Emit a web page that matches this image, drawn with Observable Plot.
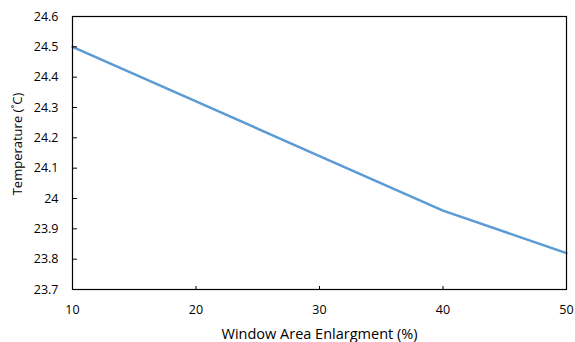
<!DOCTYPE html>
<html>
<head>
<meta charset="utf-8">
<script src="https://cdn.jsdelivr.net/npm/d3@7"></script>
<script src="https://cdn.jsdelivr.net/npm/@observablehq/plot@0.6"></script>
<style>
  html, body { margin: 0; padding: 0; background: #fff; }
  #chart svg { display: block; }
</style>
</head>
<body>
<div id="chart"></div>
<script>
const windowArea = [10, 20, 30, 40, 50];
const temperature = [24.5, 24.32, 24.14, 23.96, 23.82];
const xTicks = [10, 20, 30, 40, 50];
const yTicks = [23.7, 23.8, 23.9, 24.0, 24.1, 24.2, 24.3, 24.4, 24.5, 24.6];
const yTickLabels = ["23.7", "23.8", "23.9", "24", "24.1", "24.2", "24.3", "24.4", "24.5", "24.6"];
const xTitle = "Window Area Enlargment (%)";
const yTitle = "Temperature (˚C)";

const data = windowArea.map((x, i) => ({x, y: temperature[i]}));
const fontFamily = "'Open Sans', sans-serif";

const chart = Plot.plot({
  width: 575,
  height: 342,
  marginLeft: 72,
  marginRight: 9,
  marginTop: 16,
  marginBottom: 53,
  style: {fontFamily, fontSize: "12.5px", color: "#000", background: "#fff"},
  x: {domain: [10, 50]},
  y: {domain: [23.7, 24.6]},
  marks: [
    Plot.line(data, {x: "x", y: "y", stroke: "#5B9BD5", strokeWidth: 2.5}),
    Plot.frame({stroke: "#000", strokeWidth: 1.2}),
    // inward ticks
    Plot.axisY({ticks: yTicks, anchor: "right", frameAnchor: "left", tickSize: 4, text: null, label: null, stroke: "#000"}),
    Plot.axisX({ticks: xTicks, anchor: "top", frameAnchor: "bottom", tickSize: 4, text: null, label: null, stroke: "#000"}),
    // labels
    Plot.axisY({ticks: yTicks, anchor: "left", tickSize: 0, tickPadding: 14,
      tickFormat: (d) => yTickLabels[yTicks.findIndex(t => Math.abs(t - d) < 1e-9)],
      label: null, fontSize: 12.5, fill: "#000"}),
    Plot.axisX({ticks: xTicks, anchor: "bottom", tickSize: 0, tickPadding: 16,
      tickFormat: (d) => String(d), label: null, fontSize: 12.5, fill: "#000"}),
    Plot.text([xTitle], {frameAnchor: "bottom", lineAnchor: "middle", textAnchor: "middle", dy: 45, fontSize: 14.5, fill: "#000"}),
    Plot.text([yTitle], {frameAnchor: "left", lineAnchor: "middle", textAnchor: "middle", rotate: -90, dx: -55, dy: -9, fontSize: 13, fill: "#000"})
  ]
});
document.getElementById("chart").appendChild(chart);
</script>
</body>
</html>
